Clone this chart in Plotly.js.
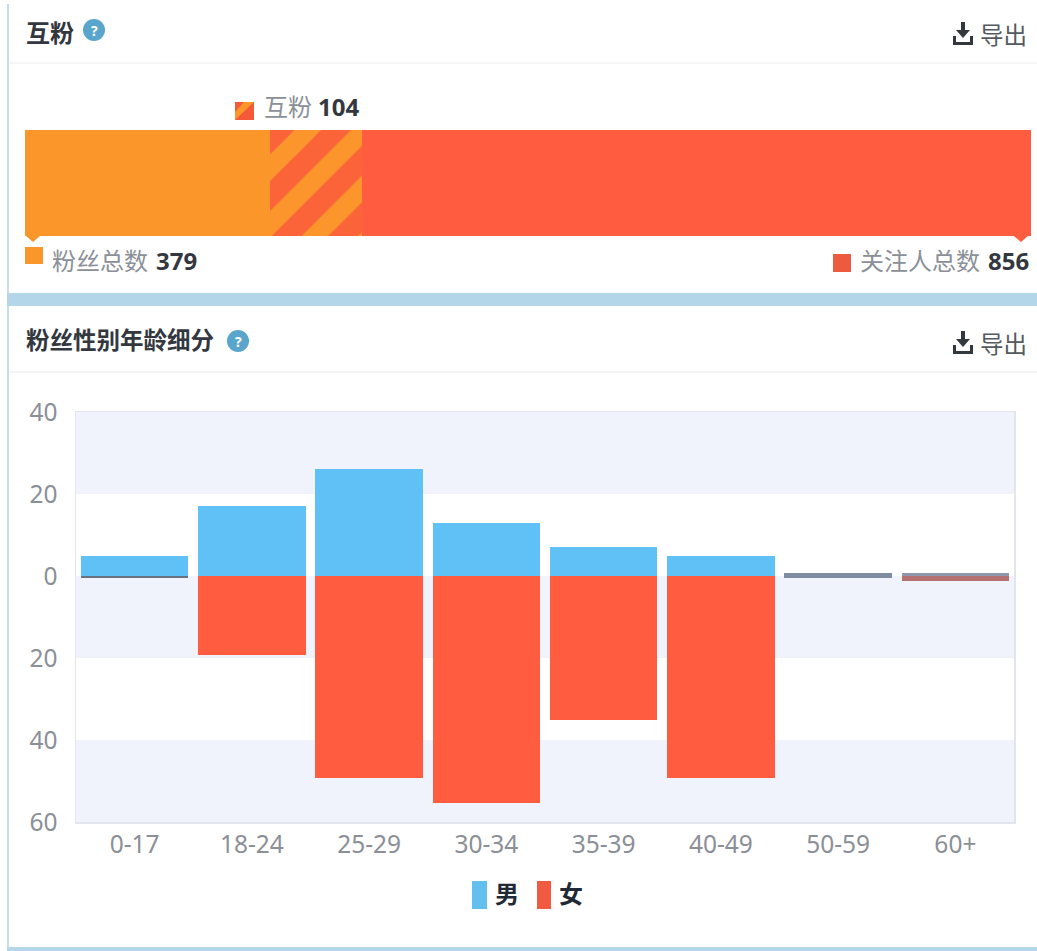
<!DOCTYPE html>
<html>
<head>
<meta charset="utf-8">
<script src="https://cdn.plot.ly/plotly-3.0.1.min.js"></script>
<style>html,body{margin:0;padding:0;background:#fff}</style>
</head>
<body>
<div id="chart" style="width:1037px;height:951px"></div>
<script>
// Mutual-follow totals
const fansTotal = 379;
const followingTotal = 856;
const mutualTotal = 104;

// Fans by age group and gender
const ageGroups = ['0-17', '18-24', '25-29', '30-34', '35-39', '40-49', '50-59', '60+'];
const maleValues = [5, 17, 26, 13, 7, 5, 0.7, 0.8];
const femaleValues = [-0.4, -19.3, -49.3, -55.4, -35.2, -49.3, -0.4, -1.2];
const valueTicks = [40, 20, 0, -20, -40, -60];
const valueTickLabels = ['40', '20', '0', '20', '40', '60'];

const W = 1037, H = 951;
const ORANGE = '#fb962b', RED = '#ff5c40', BLUE = '#60c1f7', BAND = '#f1f3fc', GREY = '#8b8f97', DARK = '#33383f';
const FONT = '"Noto Sans", "Noto Sans CJK SC", sans-serif';
const px = x => x / W;
const py = y => 1 - y / H;

// Rectangle placed in page pixels
function rect(x0, y0, x1, y1, color, layer) {
  return {type: 'rect', xref: 'paper', yref: 'paper', x0: px(x0), x1: px(x1), y0: py(y1), y1: py(y0),
          fillcolor: color, line: {width: 0}, layer: layer || 'above'};
}
// Polygon placed in page pixels
function poly(points, color) {
  const d = points.map((p, i) => (i ? 'L' : 'M') + px(p[0]).toFixed(5) + ',' + py(p[1]).toFixed(5)).join(' ') + ' Z';
  return {type: 'path', xref: 'paper', yref: 'paper', path: d, fillcolor: color, line: {width: 0}, layer: 'above'};
}
// Text placed in page pixels
function label(x, y, text, size, color, anchor) {
  return {xref: 'paper', yref: 'paper', x: px(x), y: py(y), text: text, showarrow: false,
          xanchor: anchor || 'left', yanchor: 'middle', align: 'left',
          font: {family: FONT, size: size, color: color}};
}
// Round help badge beside a panel title
function helpBadge(cx, cy) {
  return {
    shape: {type: 'circle', xref: 'paper', yref: 'paper', x0: px(cx - 11), x1: px(cx + 11), y0: py(cy + 11), y1: py(cy - 11),
            fillcolor: '#5aa5cc', line: {width: 0}, layer: 'above'},
    note: label(cx, cy, '<b>?</b>', 14, '#ffffff', 'center')
  };
}
// Download glyph next to the export link
function exportIcon(x, y) {
  return [
    rect(x + 8, y, x + 12, y + 10, DARK),
    poly([[x + 3, y + 8], [x + 17, y + 8], [x + 10, y + 16]], DARK),
    rect(x, y + 14, x + 3, y + 23, DARK),
    rect(x + 17, y + 14, x + 20, y + 23, DARK),
    rect(x, y + 20, x + 20, y + 23, DARK)
  ];
}

const overlap = fansTotal - mutualTotal;
const onlyFollowing = followingTotal - mutualTotal;

const traces = [
  {type: 'bar', orientation: 'h', xaxis: 'x', yaxis: 'y', y: ['总'], x: [overlap],
   marker: {color: ORANGE}, hoverinfo: 'skip', showlegend: false},
  {type: 'bar', orientation: 'h', xaxis: 'x', yaxis: 'y', y: ['总'], x: [mutualTotal],
   marker: {color: RED, pattern: {shape: '/', size: 40, solidity: 0.47, fgcolor: '#fb952c', bgcolor: '#fb6338', fillmode: 'replace'}},
   hoverinfo: 'skip', showlegend: false},
  {type: 'bar', orientation: 'h', xaxis: 'x', yaxis: 'y', y: ['总'], x: [onlyFollowing],
   marker: {color: RED}, hoverinfo: 'skip', showlegend: false},
  // The tiny bars at either end of the age range read as grey slivers on the baseline.
  {type: 'bar', xaxis: 'x2', yaxis: 'y2', x: ageGroups, y: maleValues, name: '男',
   width: ageGroups.map(() => 0.915),
   marker: {color: [BLUE, BLUE, BLUE, BLUE, BLUE, BLUE, '#7f8ba0', '#8f98ac']}, showlegend: false},
  {type: 'bar', xaxis: 'x2', yaxis: 'y2', x: ageGroups, y: femaleValues, name: '女',
   width: ageGroups.map(() => 0.915),
   marker: {color: ['#68727f', RED, RED, RED, RED, RED, '#7f8ba0', '#b5716f']}, showlegend: false}
];

const badgeA = helpBadge(94, 30), badgeB = helpBadge(238, 341);

const shapes = [
  // panel frame and dividers
  rect(7, 4, 9, 951, '#c3dfec', 'below'),
  rect(7, 293, 1037, 306, '#b3d6e8', 'below'),
  rect(7, 947, 1037, 951, '#b3d6e8', 'below'),
  rect(9, 62, 1037, 64, '#f3f5f6', 'below'),
  rect(9, 371, 1037, 373, '#f3f5f6', 'below'),
  // alternating plot bands
  {type: 'rect', xref: 'x2 domain', yref: 'y2', x0: 0, x1: 1, y0: 20, y1: 40, fillcolor: BAND, line: {width: 0}, layer: 'below'},
  {type: 'rect', xref: 'x2 domain', yref: 'y2', x0: 0, x1: 1, y0: -20, y1: 0, fillcolor: BAND, line: {width: 0}, layer: 'below'},
  {type: 'rect', xref: 'x2 domain', yref: 'y2', x0: 0, x1: 1, y0: -60, y1: -40, fillcolor: BAND, line: {width: 0}, layer: 'below'},
  // callout swatches around the mutual bar
  rect(235, 102, 254, 120, '#f4593a'),
  poly([[244, 102], [254, 102], [235, 120], [235, 112]], ORANGE),
  rect(25, 247, 43, 264, ORANGE),
  poly([[26, 236], [40, 236], [33, 242]], ORANGE),
  rect(833, 254, 851, 272, '#ee5a3e'),
  poly([[1014, 236], [1028, 236], [1021, 242]], RED),
  // series key
  rect(472, 881, 487, 909, '#63bfee'),
  rect(537, 881, 551, 909, '#ef5a40'),
  badgeA.shape, badgeB.shape
].concat(exportIcon(953, 22), exportIcon(953, 331));

const annotations = [
  label(24, 32, '<b>互粉</b>', 24, DARK),
  label(978, 35, '导出', 23.5, '#555a60'),
  label(24, 340, '<b>粉丝性别年龄细分</b>', 23.5, DARK),
  label(978, 344, '导出', 23.5, '#555a60'),
  label(262, 107, '互粉', 24, GREY),
  label(361, 107, '<b>' + mutualTotal + '</b>', 24, DARK, 'right'),
  label(50, 260, '粉丝总数', 24, GREY),
  label(199, 260, '<b>' + fansTotal + '</b>', 24, DARK, 'right'),
  label(858, 260, '关注人总数', 24, GREY),
  label(1031, 260, '<b>' + followingTotal + '</b>', 24, DARK, 'right'),
  label(493, 893, '<b>男</b>', 24, '#1f2a36'),
  label(557, 893, '<b>女</b>', 24, '#1f2a36'),
  badgeA.note, badgeB.note
];

const layout = {
  width: W, height: H, autosize: false,
  margin: {l: 0, r: 0, t: 0, b: 0, pad: 0},
  paper_bgcolor: '#ffffff', plot_bgcolor: 'rgba(0,0,0,0)',
  font: {family: FONT},
  barmode: 'relative', bargap: 0,
  showlegend: false,
  xaxis: {domain: [px(25), px(1031)], range: [0, overlap + mutualTotal + onlyFollowing], visible: false, fixedrange: true},
  yaxis: {domain: [py(236), py(130)], visible: false, fixedrange: true},
  xaxis2: {anchor: 'y2', domain: [px(76), px(1014)], type: 'category', categoryorder: 'array', categoryarray: ageGroups,
           showgrid: false, zeroline: false, showline: true, mirror: true, linecolor: '#e2e5ee', linewidth: 1.5,
           tickfont: {family: FONT, size: 24.5, color: GREY}, ticks: '', ticklabelstandoff: 0, fixedrange: true},
  yaxis2: {anchor: 'x2', domain: [py(822), py(412)], range: [-60, 40], tickvals: valueTicks, ticktext: valueTickLabels,
           showgrid: false, zeroline: false, showline: true, mirror: true, linecolor: '#e2e5ee', linewidth: 1.5,
           tickfont: {family: FONT, size: 24.5, color: GREY}, ticks: '', ticklabelstandoff: 12, fixedrange: true},
  shapes: shapes,
  annotations: annotations
};

Plotly.newPlot('chart', traces, layout, {displayModeBar: false, staticPlot: true});
</script>
</body>
</html>
